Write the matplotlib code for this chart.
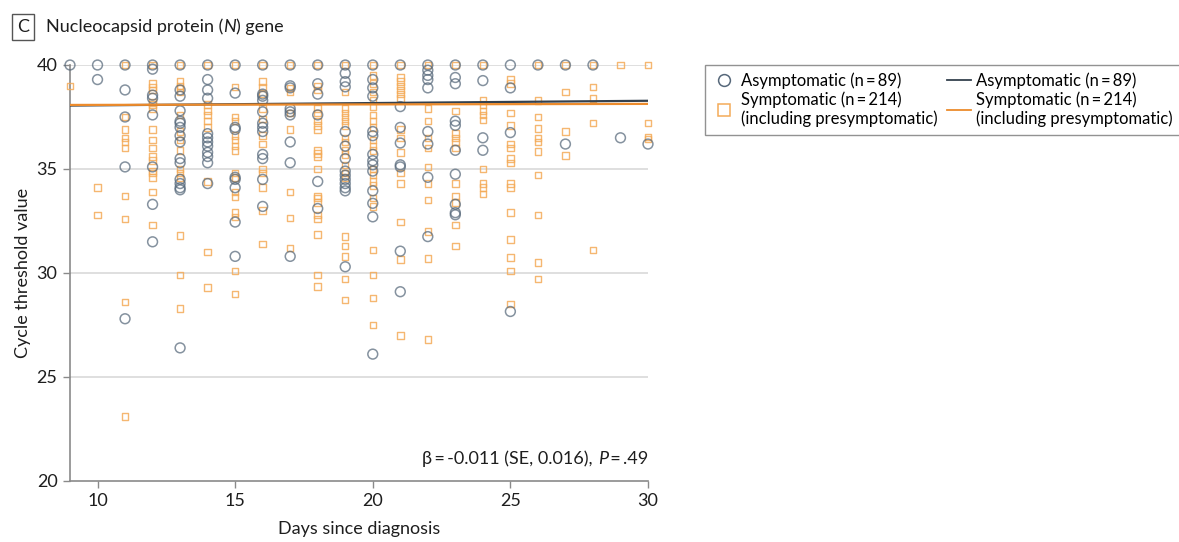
import numpy as np
import matplotlib
matplotlib.use("Agg")
import matplotlib.pyplot as plt
from matplotlib.lines import Line2D

plt.rcParams['font.family'] = ['Lato', 'DejaVu Sans']

days = list(range(9, 31))

# cycle threshold values read per day, asymptomatic group
asym_ct = [
    [40],
    [40, 39.3],
    [40, 38.8, 37.5, 35.1, 27.8],
    [40, 39.8, 38.55, 38.4, 37.6, 35.1, 33.3, 31.5],
    [40, 38.8, 38.5, 37.8, 37.3, 37.2, 37.0, 36.6, 36.3, 35.5, 35.3, 34.5, 34.3, 34.1, 34.0, 26.4],
    [40, 39.3, 38.8, 38.4, 36.7, 36.5, 36.3, 36.1, 35.8, 35.6, 35.3, 34.3],
    [40, 38.65, 37.0, 36.9, 34.6, 34.5, 34.1, 32.45, 30.8],
    [40, 38.6, 38.5, 38.3, 37.75, 37.2, 37.0, 36.8, 35.7, 35.5, 34.5, 33.2],
    [40, 39.0, 38.9, 37.9, 37.75, 37.6, 36.3, 35.3, 30.8],
    [40, 39.1, 38.6, 37.6, 34.4, 33.1],
    [40, 39.6, 39.2, 38.95, 36.8, 36.1, 35.5, 34.9, 34.7, 34.5, 34.3, 34.1, 33.95, 30.3],
    [40, 39.3, 38.9, 38.5, 36.8, 36.6, 35.7, 35.4, 35.2, 34.9, 33.95, 33.35, 32.7, 26.1],
    [40, 38.0, 37.0, 36.25, 35.2, 35.1, 31.05, 29.1],
    [40, 39.75, 39.5, 39.3, 38.9, 36.8, 36.2, 34.6, 31.75],
    [40, 39.4, 39.1, 37.3, 37.1, 35.9, 34.75, 33.3, 32.9, 32.8],
    [40, 39.25, 36.5, 35.9],
    [40, 38.9, 36.75, 28.15],
    [40],
    [40, 36.2],
    [40],
    [36.5],
    [36.2],
]

# symptomatic group (including presymptomatic)
sym_ct = [
    [39.0],
    [34.1, 32.8],
    [40, 37.5, 36.9, 36.5, 36.3, 36.0, 33.7, 32.6, 28.6, 23.1],
    [40, 39.1, 38.95, 38.8, 38.2, 38.1, 37.9, 36.9, 36.4, 36.0, 35.6, 35.4, 34.9, 34.8, 34.6, 33.9, 32.3],
    [40, 39.2, 39.0, 38.9, 38.7, 37.6, 36.8, 36.4, 35.9, 35.0, 34.8, 34.6, 31.8, 29.9, 28.3],
    [40, 38.1, 37.8, 37.6, 37.3, 37.0, 34.4, 31.0, 29.3],
    [40, 38.95, 37.5, 37.3, 36.6, 36.4, 36.1, 35.9, 34.8, 34.6, 33.9, 33.65, 32.9, 32.7, 30.1, 29.0],
    [40, 39.2, 38.95, 38.6, 37.9, 37.4, 36.6, 36.2, 35.0, 34.8, 34.1, 33.0, 31.4],
    [40, 38.9, 38.7, 37.7, 36.9, 33.9, 32.65, 31.2],
    [40, 39.0, 38.8, 37.9, 37.7, 37.3, 37.1, 36.9, 35.9, 35.75, 35.6, 35.0, 33.7, 33.6, 33.4,
     32.8, 32.6, 31.85, 29.9, 29.35],
    [40, 38.7, 37.9, 37.7, 37.5, 37.3, 37.1, 36.5, 36.3, 35.9, 35.7, 35.2, 34.8, 34.6, 31.75,
     31.3, 30.8, 29.7, 28.7],
    [40, 39.5, 39.1, 38.7, 38.3, 38.0, 37.6, 37.3, 37.0, 36.4, 36.1, 35.9, 35.0, 34.7, 34.4,
     34.2, 33.6, 33.2, 31.1, 29.9, 28.8, 27.5],
    [40, 39.4, 39.2, 39.0, 38.8, 38.6, 38.4, 36.9, 36.5, 35.8, 34.8, 34.3, 32.45, 30.65, 27.0],
    [40, 37.9, 37.3, 36.5, 36.0, 35.1, 34.3, 33.5, 32.0, 30.7, 26.8],
    [40, 37.8, 36.7, 36.5, 36.3, 36.0, 34.3, 33.7, 33.4, 32.3, 31.3],
    [40, 38.3, 38.1, 37.8, 37.6, 37.35, 35.0, 34.3, 34.1, 33.8],
    [39.3, 39.1, 37.7, 37.1, 36.2, 36.0, 35.5, 35.3, 34.3, 34.1, 32.9, 31.6, 30.75, 30.1, 28.5],
    [40, 38.3, 37.5, 36.95, 36.5, 36.3, 35.85, 34.7, 32.8, 30.5, 29.7],
    [40, 38.7, 36.8, 35.65],
    [40, 38.95, 38.4, 37.2, 31.1],
    [40],
    [40, 37.2, 36.55, 36.45],
]

# fitted regression lines (end points)
fit_days = [9, 30]
asym_fit = [38.05, 38.28]
sym_fit = [38.08, 38.13]

asym_label = "Asymptomatic (n\u2009=\u200989)"
sym_label = "Symptomatic (n\u2009=\u2009214)\n(including presymptomatic)"

c_asym = "#56687a"
c_sym = "#f4ab58"
c_asym_line = "#34414e"
c_sym_line = "#ec8b2c"
grid_c = "#d6d6d6"
spine_c = "#8a8a8a"
text_c = "#1e1e1e"
fs = 13

fig = plt.figure(figsize=(11.79, 5.42), dpi=100)
ax = fig.add_axes([70 / 1179, 1 - 481 / 542, (648 - 70) / 1179, (481 - 65) / 542])

ax_x = [d for d, v in zip(days, asym_ct) for _ in v]
ax_y = [y for v in asym_ct for y in v]
sx = [d for d, v in zip(days, sym_ct) for _ in v]
sy = [y for v in sym_ct for y in v]

ax.scatter(sx, sy, s=22, marker="s", facecolors="none", edgecolors=c_sym,
           linewidths=1.0, alpha=0.85, zorder=3, clip_on=False)
ax.scatter(ax_x, ax_y, s=50, marker="o", facecolors="none", edgecolors=c_asym,
           linewidths=1.1, alpha=0.72, zorder=4, clip_on=False)
ax.plot(fit_days, asym_fit, color=c_asym_line, lw=1.6, zorder=5)
ax.plot(fit_days, sym_fit, color=c_sym_line, lw=1.6, zorder=5)

ax.set_xlim(9, 30)
ax.set_ylim(20, 40)
ax.set_xticks([10, 15, 20, 25, 30])
ax.set_yticks([20, 25, 30, 35, 40])
for yv in [25, 30, 35, 40]:
    ax.axhline(yv, color=grid_c, lw=1.1, zorder=1)
for s in ["top", "right"]:
    ax.spines[s].set_visible(False)
for s in ["left", "bottom"]:
    ax.spines[s].set_color(spine_c)
    ax.spines[s].set_linewidth(1.2)
ax.tick_params(axis="both", colors=spine_c, length=5, width=1.0, labelsize=fs,
               labelcolor=text_c, pad=4)
ax.set_xlabel("Days since diagnosis", fontsize=fs, color=text_c, labelpad=8)
ax.set_ylabel("Cycle threshold value", fontsize=fs, color=text_c, labelpad=4)

# annotation, built from the right so P can be italic
fig.canvas.draw()
renderer = fig.canvas.get_renderer()
inv = ax.transData.inverted()
parts = [("\u03b2\u2009=\u2009-0.011 (SE, 0.016), ", "normal"), ("P", "italic"), ("\u2009=\u2009.49", "normal")]
x_right = 30.0
for txt, style in reversed(parts):
    t = ax.text(x_right, 20.8, txt, ha="right", va="baseline", fontsize=fs,
                style=style, color=text_c)
    bb = t.get_window_extent(renderer)
    x_right = inv.transform((bb.x0, bb.y0))[0]

# title with boxed panel letter
fig.text(23 / 1179, 1 - 27 / 542, "C", ha="center", va="center", fontsize=fs,
         color=text_c,
         bbox=dict(boxstyle="square,pad=0.3", fc="white", ec="#555555", lw=1.0))
x_px = 46
for txt, style in [("Nucleocapsid protein (", "normal"), ("N", "italic"), (") gene", "normal")]:
    t = fig.text(x_px / 1179, 1 - 27 / 542, txt, ha="left", va="center", fontsize=fs,
                 style=style, color=text_c)
    bb = t.get_window_extent(renderer)
    x_px = bb.x1

handles = [
    Line2D([], [], ls="none", marker="o", ms=8.5, mfc="none", mec=c_asym, mew=1.1),
    Line2D([], [], ls="none", marker="s", ms=8, mfc="none", mec=c_sym, mew=1.1),
    Line2D([], [], color=c_asym_line, lw=1.3),
    Line2D([], [], color=c_sym_line, lw=1.3),
]
labels = [asym_label, sym_label, asym_label, sym_label]
leg = fig.legend(handles, labels, ncol=2, loc="upper left",
                 bbox_to_anchor=(705 / 1179, 1 - 65 / 542), fontsize=12,
                 frameon=True, fancybox=False, edgecolor="#777777",
                 handlelength=1.4, handletextpad=0.3, columnspacing=0.6,
                 labelspacing=0.15, borderpad=0.45, borderaxespad=0)
leg.get_frame().set_linewidth(1.0)

fig.savefig("out.png", dpi=100)
